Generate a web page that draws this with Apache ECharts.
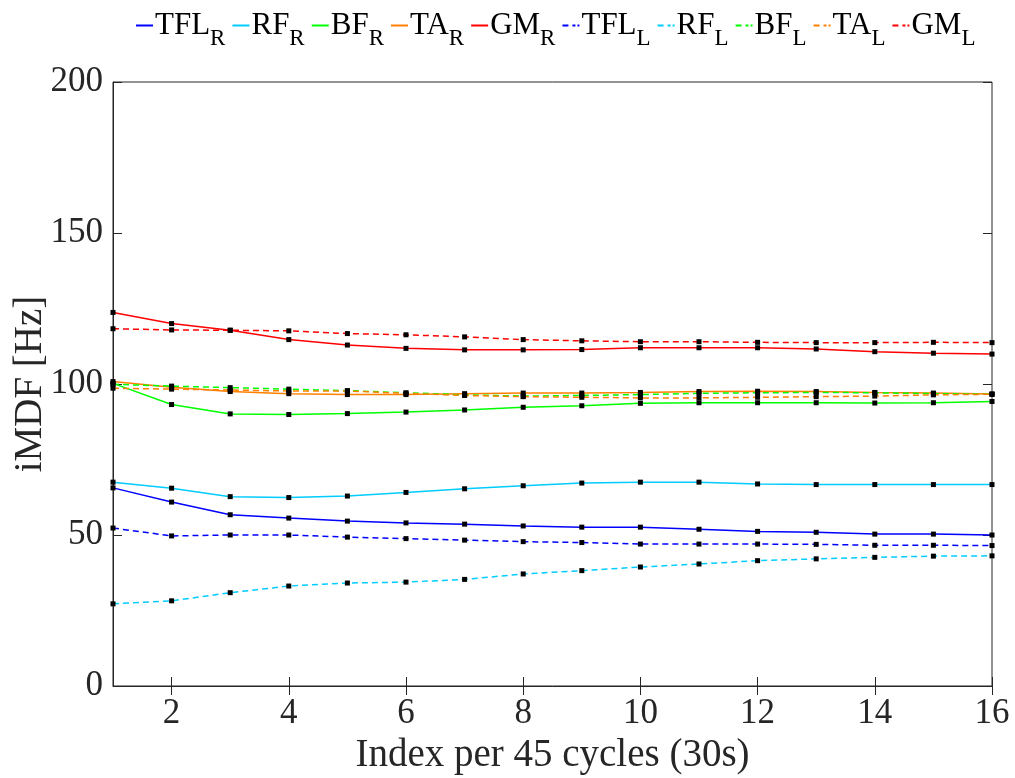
<!DOCTYPE html>
<html>
<head>
<meta charset="utf-8">
<script src="https://cdn.jsdelivr.net/npm/echarts@6/dist/echarts.min.js"></script>
<style>
html,body{margin:0;padding:0;background:#fff;}
#chart{width:1015px;height:778px;}
</style>
</head>
<body>
<div id="chart"></div>
<script>
// x: index per 45 cycles
const idx = [1,2,3,4,5,6,7,8,9,10,11,12,13,14,15,16];
const xTicks = [2,4,6,8,10,12,14,16];
const yTicks = [0,50,100,150,200];

// right side
const tflR = [65.6,60.9,56.7,55.6,54.6,54.0,53.6,53.0,52.6,52.6,51.9,51.2,50.9,50.3,50.3,50.0];
const rfR  = [67.5,65.5,62.7,62.4,62.9,64.1,65.3,66.3,67.2,67.5,67.5,66.9,66.7,66.7,66.7,66.7];
const bfR  = [100.2,93.2,90.1,89.9,90.2,90.7,91.4,92.3,92.8,93.6,93.8,93.8,93.8,93.7,93.8,94.2];
const taR  = [100.8,98.9,97.5,96.8,96.5,96.5,96.8,97.0,97.0,97.2,97.5,97.6,97.5,97.2,97.0,96.7];
const gmR  = [123.7,120.0,117.8,114.7,112.9,111.8,111.3,111.3,111.4,112.0,112.0,112.0,111.6,110.7,110.2,109.9];
// left side
const tflL = [52.3,49.7,50.0,50.0,49.3,48.8,48.3,47.8,47.5,47.0,47.0,47.0,46.9,46.6,46.6,46.5];
const rfL  = [27.2,28.2,30.9,33.1,34.1,34.4,35.3,37.1,38.2,39.4,40.4,41.5,42.1,42.6,43.0,43.1];
const bfL  = [99.9,99.3,98.8,98.3,97.8,97.1,96.4,96.0,96.2,96.5,96.9,97.1,97.2,97.1,96.8,96.6];
const taL  = [98.6,98.3,98.0,97.7,97.7,96.9,96.2,95.8,95.6,95.4,95.4,95.6,95.8,96.0,96.4,96.6];
const gmL  = [118.3,117.9,117.8,117.6,116.7,116.3,115.6,114.7,114.3,114.0,114.0,113.8,113.7,113.7,113.8,113.7];

const font = "'Liberation Serif', 'DejaVu Serif', serif";
const axisColor = '#262626';
const cols = {TFL:'#0000ff', RF:'#00ccff', BF:'#00ff00', TA:'#ff8000', GM:'#ff0000'};

const defs = [
  ['TFL','R',tflR,false],['RF','R',rfR,false],['BF','R',bfR,false],['TA','R',taR,false],['GM','R',gmR,false],
  ['TFL','L',tflL,true],['RF','L',rfL,true],['BF','L',bfL,true],['TA','L',taL,true],['GM','L',gmL,true]
];

let series = defs.map(function(d){
  return {
    name: d[0] + '_' + d[1],
    type: 'line',
    data: idx.map(function(x,i){ return [x, d[2][i]]; }),
    symbol: 'rect',
    symbolSize: 5,
    itemStyle: {color: '#000'},
    lineStyle: {color: cols[d[0]], width: 1.5, type: d[3] ? [6,4] : 'solid'},
    emphasis: {disabled: true},
    animation: false
  };
});

let legendData = defs.map(function(d){
  return {
    name: d[0] + '_' + d[1],
    icon: d[3] ? 'path://M0,0h6v2h-6z M10,0h3v2h-3z M15,0h2v2h-2z' : 'rect',
    itemStyle: {color: cols[d[0]]}
  };
});

let myChart = echarts.init(document.getElementById('chart'));
myChart.setOption({
  backgroundColor: '#fff',
  textStyle: {fontFamily: font},
  legend: {
    data: legendData,
    top: 5,
    left: 131,
    itemWidth: 17,
    itemHeight: 2,
    itemGap: 7,
    formatter: function(n){
      let p = n.split('_');
      return '{b|' + p[0] + '}{s|' + p[1] + '}';
    },
    textStyle: {
      padding: [0,0,0,-3],
      rich: {
        b: {fontFamily: font, fontSize: 31, color: '#000', lineHeight: 34},
        s: {fontFamily: font, fontSize: 23, color: '#000', padding: [26,0,0,0]}
      }
    }
  },
  grid: {left: 113, right: 23, top: 82, bottom: 92, outerBoundsMode: 'none',
    show: true, borderColor: axisColor, borderWidth: 1},
  xAxis: [{
    type: 'value', min: 1, max: 16, interval: 1,
    name: 'Index per 45 cycles (30s)',
    nameLocation: 'middle', nameGap: 50, nameMoveOverlap: false,
    nameTextStyle: {fontFamily: font, fontSize: 39, color: axisColor},
    axisLine: {show: true, lineStyle: {color: axisColor}},
    axisTick: {inside: true, length: 9, customValues: xTicks, lineStyle: {color: axisColor}},
    axisLabel: {fontFamily: font, fontSize: 35, color: axisColor, margin: 10, customValues: xTicks},
    splitLine: {show: false}
  },{
    type: 'value', min: 1, max: 16, interval: 1, position: 'top',
    axisLine: {show: false},
    axisTick: {inside: true, length: 9, customValues: xTicks, lineStyle: {color: axisColor}},
    axisLabel: {show: false},
    splitLine: {show: false}
  }],
  yAxis: [{
    type: 'value', min: yTicks[0], max: yTicks[yTicks.length-1], interval: 50,
    name: 'iMDF [Hz]',
    nameLocation: 'middle', nameGap: 63, nameMoveOverlap: false,
    nameTextStyle: {fontFamily: font, fontSize: 39, color: axisColor},
    axisLine: {show: true, lineStyle: {color: axisColor}},
    axisTick: {inside: true, length: 9, lineStyle: {color: axisColor}},
    axisLabel: {fontFamily: font, fontSize: 35, color: axisColor, margin: 10},
    splitLine: {show: false}
  },{
    type: 'value', min: 0, max: 200, interval: 50, position: 'right',
    axisLine: {show: false},
    axisTick: {inside: true, length: 9, lineStyle: {color: axisColor}},
    axisLabel: {show: false},
    splitLine: {show: false}
  }],
  series: series
});
</script>
</body>
</html>
